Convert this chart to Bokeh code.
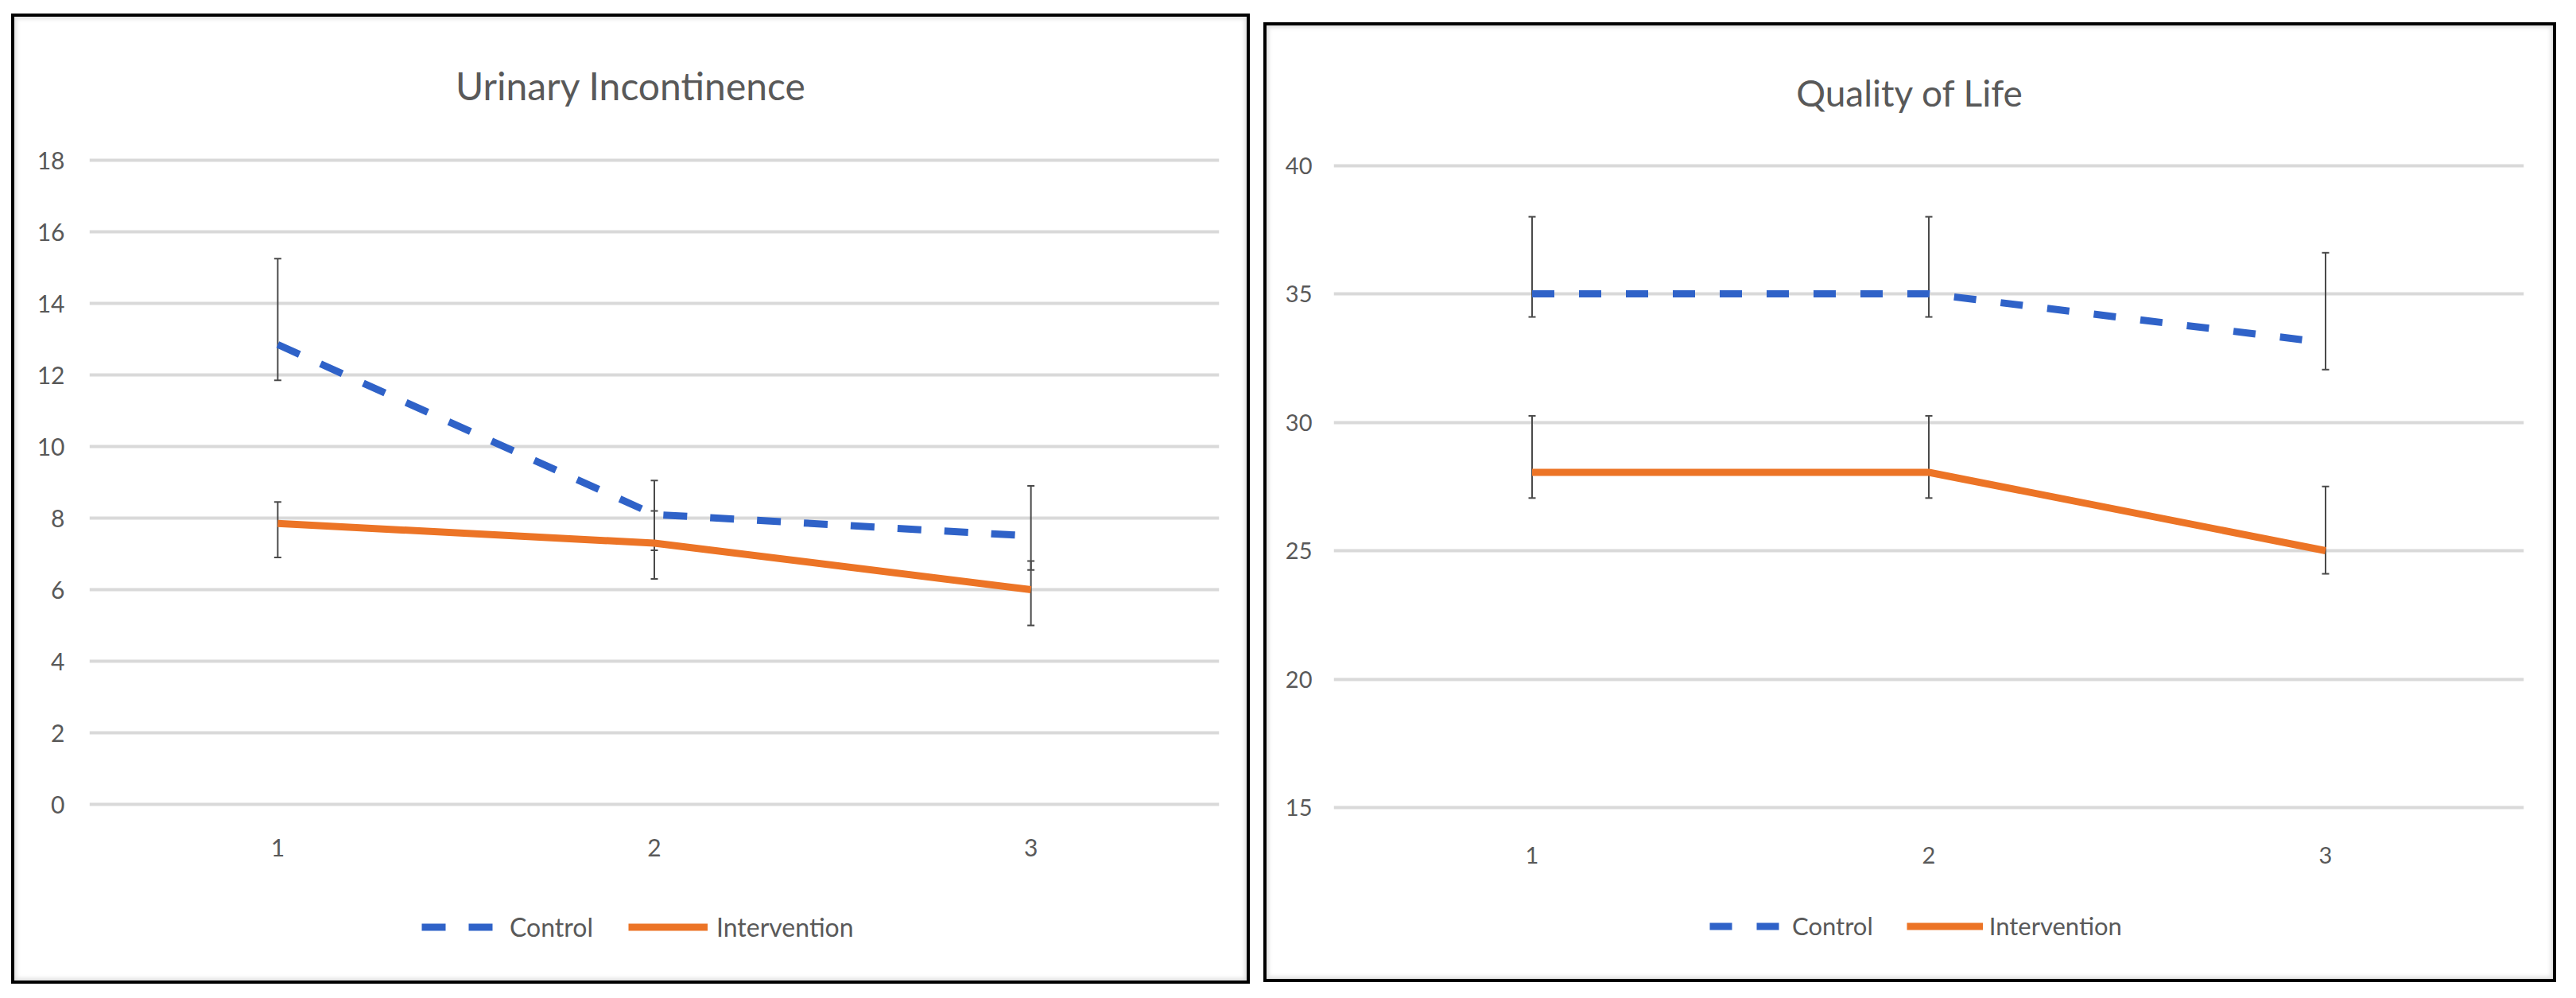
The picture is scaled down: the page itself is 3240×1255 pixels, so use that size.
from bokeh.plotting import figure
from bokeh.models import (FactorRange, Range1d, ColumnDataSource, Whisker, TeeHead,
                          Legend, LegendItem, Label, FixedTicker, Spacer)
from bokeh.layouts import row, column
from bokeh.embed import file_html
from bokeh.resources import INLINE

# ---------------- data ----------------
timepoints = ["1", "2", "3"]

ui_title = "Urinary Incontinence"
ui_control = [12.85, 8.1, 7.5]
ui_control_upper = [15.25, 9.05, 8.9]
ui_control_lower = [11.85, 7.1, 6.55]
ui_intervention = [7.85, 7.3, 6.0]
ui_intervention_upper = [8.45, 8.2, 6.8]
ui_intervention_lower = [6.9, 6.3, 5.0]
ui_yticks = [0, 2, 4, 6, 8, 10, 12, 14, 16, 18]

qol_title = "Quality of Life"
qol_control = [35.0, 35.0, 33.1]
qol_control_upper = [38.0, 38.0, 36.6]
qol_control_lower = [34.1, 34.1, 32.05]
qol_intervention = [28.05, 28.05, 25.0]
qol_intervention_upper = [30.25, 30.25, 27.5]
qol_intervention_lower = [27.05, 27.05, 24.1]
qol_yticks = [15, 20, 25, 30, 35, 40]

series_names = ["Control", "Intervention"]

# ---------------- style ----------------
BLUE = "#2F62C8"
ORANGE = "#EC7426"
TEXT = "#595959"
GRID = "#d9d9d9"
ERR = "#4a4a4a"
FONT = "Lato"


def make_panel(title, c, c_up, c_lo, iv, i_up, i_lo, yticks, L):
    w, h = L["w"], L["h"]
    ml, mr, mt, mb = L["ml"], L["mr"], 0, L["mb"]
    yt, yb = L["grid_top"], L["grid_bottom"]          # pixel rows of top / bottom tick
    ymin, ymax = yticks[0], yticks[-1]
    ppu_y = (yb - yt) / float(ymax - ymin)
    y_end = ymax + (yt - mt) / ppu_y
    y_start = ymin - (h - mb - yb) / ppu_y

    p = figure(x_range=FactorRange(factors=timepoints, range_padding=0),
               y_range=Range1d(y_start, y_end),
               width=w, height=h, output_backend="svg",
               toolbar_location=None, title=None,
               min_border_left=ml, min_border_right=mr,
               min_border_top=mt, min_border_bottom=mb)
    p.border_fill_alpha = 0
    p.background_fill_alpha = 0
    p.outline_line_color = None
    p.styles = {"background-color": "white",
                "box-shadow": "inset 0 0 0 4px #000000, inset 0 0 5px 7px #e2e2e2"}

    # axes
    for ax in (p.xaxis[0], p.yaxis[0]):
        ax.axis_line_color = None
        ax.major_tick_line_color = None
        ax.minor_tick_line_color = None
        ax.major_tick_out = 0
        ax.major_tick_in = 0
        ax.minor_tick_out = 0
        ax.minor_tick_in = 0
        ax.major_label_text_font = FONT
        ax.major_label_text_color = TEXT
        ax.major_label_text_font_size = L["tick_fs"]
    p.xaxis.major_label_standoff = 0
    p.xaxis.fixed_location = ymin - L["xlab_off"] / ppu_y
    p.yaxis.major_label_standoff = L["ystand"]
    p.yaxis.ticker = FixedTicker(ticks=yticks)
    p.xgrid.grid_line_color = None
    p.ygrid.ticker = FixedTicker(ticks=yticks)
    p.ygrid.grid_line_color = GRID
    p.ygrid.grid_line_width = 4

    src = ColumnDataSource(dict(x=timepoints, c=c, c_up=c_up, c_lo=c_lo,
                                iv=iv, i_up=i_up, i_lo=i_lo))

    rc = p.line("x", "c", source=src, line_color=BLUE, line_width=9,
                line_dash=L["dash"], line_cap="butt")
    ri = p.line("x", "iv", source=src, line_color=ORANGE, line_width=9,
                line_join="round")

    for up, lo in (("c_up", "c_lo"), ("i_up", "i_lo")):
        wk = Whisker(base="x", upper=up, lower=lo, source=src,
                     line_color=ERR, line_width=2,
                     upper_head=TeeHead(size=9, line_color=ERR, line_width=2),
                     lower_head=TeeHead(size=9, line_color=ERR, line_width=2))
        p.add_layout(wk)

    # title, centred on the panel
    fw = w - ml - mr
    ppu_x = fw / 3.0
    tx = (w / 2.0 - ml) / ppu_x
    ty = ymin + (yb - L["title_base"]) / ppu_y
    p.add_layout(Label(x=tx, y=ty, text=title, text_align="center",
                       text_baseline="alphabetic", text_font=FONT,
                       text_font_size=L["title_fs"], text_color=TEXT))

    legend = Legend(items=[LegendItem(label=series_names[0], renderers=[rc]),
                           LegendItem(label=series_names[1], renderers=[ri])],
                    orientation="horizontal",
                    location=(L["leg_x"], (h - mb) - L["leg_bottom"]),
                    glyph_width=L["gw"], glyph_height=31, label_height=31,
                    label_standoff=L["ls"], spacing=L["sp"], padding=0, margin=0,
                    border_line_color=None, background_fill_alpha=0,
                    label_text_font=FONT, label_text_font_size=L["leg_fs"],
                    label_text_color=TEXT)
    p.add_layout(legend)
    return p


# pixel geometry inside each panel (panel-local, from the top-left corner)
left_layout = dict(w=1558, h=1220, ml=98, mr=39, mb=45,
                   grid_top=184, grid_bottom=994,
                   tick_fs="30px", xlab_off=43, ystand=31, dash="30 29",
                   title_base=90, title_fs="48px",
                   leg_x=418, leg_bottom=1168, gw=100, ls=11, sp=44, leg_fs="32px")
right_layout = dict(w=1626, h=1207, ml=88, mr=41, mb=45,
                    grid_top=179.5, grid_bottom=987,
                    tick_fs="29px", xlab_off=49, ystand=27, dash="28 31",
                    title_base=88, title_fs="46px",
                    leg_x=473, leg_bottom=1155, gw=96, ls=8, sp=42, leg_fs="31px")

p1 = make_panel(ui_title, ui_control, ui_control_upper, ui_control_lower,
                ui_intervention, ui_intervention_upper, ui_intervention_lower,
                ui_yticks, left_layout)
p2 = make_panel(qol_title, qol_control, qol_control_upper, qol_control_lower,
                qol_intervention, qol_intervention_upper, qol_intervention_lower,
                qol_yticks, right_layout)

layout = row(Spacer(width=14, height=10),
             column(Spacer(width=10, height=17), p1),
             Spacer(width=17, height=10),
             column(Spacer(width=10, height=28), p2))
open("out.html", "w").write(file_html(layout, INLINE))
